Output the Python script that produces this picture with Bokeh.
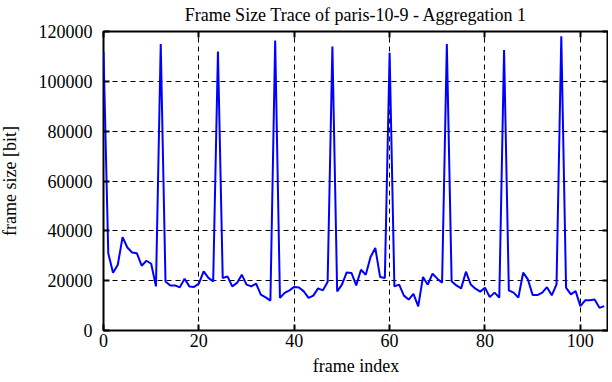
from bokeh.plotting import figure
from bokeh.models import LinearAxis, Range1d, FixedTicker, BasicTickFormatter
from bokeh.embed import file_html
from bokeh.resources import INLINE

frame_index = list(range(106))
frame_size = [
    112000, 31000, 23200, 26400, 37500, 33300, 31300, 31000, 26000, 28000,
    26800, 17700, 115000, 19700, 18100, 18100, 17300, 20800, 17700, 17500,
    18800, 23700, 21100, 19700, 112000, 21100, 21700, 17700, 19100, 22400,
    18400, 17700, 18800, 14400, 13300, 12000, 116400, 13100, 15100, 16100,
    17500, 17300, 15700, 13100, 14000, 16900, 16100, 19500, 114000, 15700,
    18400, 23300, 23100, 18100, 24400, 22400, 29500, 33100, 21500, 21100,
    111500, 17700, 18400, 14000, 12400, 14700, 9700, 21500, 18400, 22800,
    20800, 19200, 115000, 19800, 18100, 16900, 23600, 18500, 16800, 15600,
    17200, 13400, 15200, 13200, 112600, 16100, 15200, 13200, 23200, 20500,
    14200, 14200, 15200, 17400, 14100, 18500, 118100, 17200, 14500, 15800,
    9800, 12100, 12100, 12400, 9100, 9800,
]
x_ticks = [0, 20, 40, 60, 80, 100]
y_ticks = [0, 20000, 40000, 60000, 80000, 100000, 120000]

FONT = "Liberation Serif"

p = figure(width=612, height=382, output_backend="svg", toolbar_location=None,
           x_range=Range1d(0, 105.9), y_range=Range1d(0, 120000),
           title="Frame Size Trace of paris-10-9 - Aggregation 1",
           x_axis_label="frame index", y_axis_label="frame size [bit]",
           min_border_left=100, min_border_right=0, min_border_top=33,
           min_border_bottom=47)
p.margin = (-4, 0, 0, -4)
p.background_fill_color = "white"
p.border_fill_color = "white"
p.outline_line_color = "black"
p.outline_line_width = 2

p.title.text_font = FONT
p.title.text_font_size = "18px"
p.title.text_font_style = "normal"
p.title.text_color = "black"
p.title.align = "center"
p.title.offset = 0
p.title.standoff = 13

for ax in (p.xaxis[0], p.yaxis[0]):
    ax.major_label_text_font = FONT
    ax.major_label_text_font_size = "18px"
    ax.major_label_text_color = "black"
    ax.axis_label_text_font = FONT
    ax.axis_label_text_font_size = "18px"
    ax.axis_label_text_font_style = "normal"
    ax.axis_label_text_color = "black"
    ax.major_tick_in = 6
    ax.major_tick_out = 0
    ax.minor_tick_line_color = None
    ax.major_tick_line_color = "black"
    ax.major_tick_line_width = 2
    ax.axis_line_color = None
    ax.formatter = BasicTickFormatter(use_scientific=False)

p.xaxis[0].ticker = FixedTicker(ticks=x_ticks)
p.yaxis[0].ticker = FixedTicker(ticks=y_ticks)
p.xaxis[0].major_label_standoff = 3
p.yaxis[0].major_label_standoff = 11
p.xaxis[0].axis_label_standoff = 6
p.yaxis[0].axis_label_standoff = 16

for loc, ticks in (("right", y_ticks), ("above", x_ticks)):
    ax2 = LinearAxis(ticker=FixedTicker(ticks=ticks))
    ax2.major_label_overrides = {t: "" for t in ticks}
    ax2.major_label_text_font_size = "1px"
    ax2.major_label_standoff = 0
    ax2.major_tick_in = 6
    ax2.major_tick_out = 0
    ax2.major_tick_line_width = 2
    ax2.minor_tick_line_color = None
    ax2.axis_line_color = None
    p.add_layout(ax2, loc)

for g in (p.xgrid[0], p.ygrid[0]):
    g.grid_line_color = "black"
    g.grid_line_dash = "5 4"
    g.grid_line_width = 1
p.xgrid[0].ticker = FixedTicker(ticks=x_ticks)
p.ygrid[0].ticker = FixedTicker(ticks=y_ticks)

p.line(frame_index, frame_size, line_color="#0000ff", line_width=2)

open("out.html", "w").write(file_html(p, INLINE))
